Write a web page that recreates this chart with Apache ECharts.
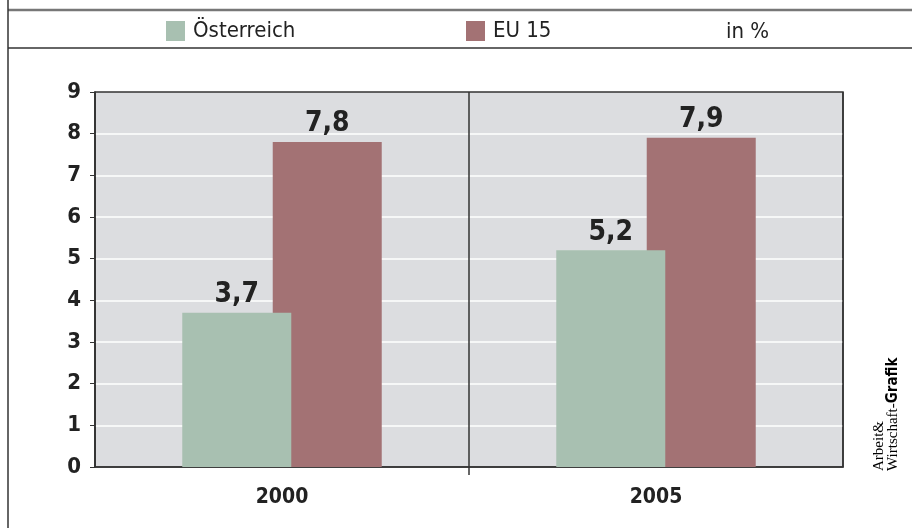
<!DOCTYPE html>
<html>
<head>
<meta charset="utf-8">
<script src="https://cdn.jsdelivr.net/npm/echarts@6/dist/echarts.min.js"></script>
<style>
  html, body { margin: 0; padding: 0; background: #fff; }
  #chart { width: 912px; height: 528px; }
</style>
</head>
<body>
<div id="chart"></div>
<script>
// Daten
var categories = ['2000', '2005'];
var oesterreich = [3.7, 5.2];
var eu15 = [7.8, 7.9];
var seriesNames = ['Österreich', 'EU 15'];
var unitText = 'in %';

var FONT = "'Liberation Sans Narrow', 'DejaVu Sans Condensed', sans-serif";
var green = '#a8c0b1';
var red = '#a37274';

var chart = echarts.init(document.getElementById('chart'));

// Zahl mit Komma
function fmt(p) {
  return String(p.value).replace('.', ',');
}

var legendText = { fontFamily: FONT, fontSize: 22, color: '#222', padding: [0, 0, 0, 3] };

var option = {
  backgroundColor: '#fff',
  animation: false,
  textStyle: { fontFamily: FONT },
  legend: [{
    data: [seriesNames[0]],
    left: 166, top: 20, padding: 0,
    itemWidth: 19, itemHeight: 20, itemGap: 10,
    icon: 'rect',
    textStyle: legendText
  }, {
    data: [seriesNames[1]],
    left: 466, top: 20, padding: 0,
    itemWidth: 19, itemHeight: 20, itemGap: 10,
    icon: 'rect',
    textStyle: legendText
  }],
  grid: {
    left: 95, right: 69, top: 92, bottom: 61,
    show: true,
    backgroundColor: '#dcdde0',
    borderColor: '#333',
    borderWidth: 1.5
  },
  xAxis: {
    type: 'category',
    data: categories,
    axisLine: { lineStyle: { color: '#333', width: 1.5 } },
    axisTick: { show: false },
    splitLine: { show: true, lineStyle: { color: '#333', width: 1.5 } },
    axisLabel: { fontFamily: FONT, fontSize: 21, fontWeight: 'bold', color: '#222', margin: 20 }
  },
  yAxis: {
    type: 'value',
    min: 0, max: 9, interval: 1,
    axisLine: { show: true, lineStyle: { color: '#333', width: 1.5 } },
    axisTick: { show: true, length: 5, lineStyle: { color: '#333' } },
    splitLine: { show: true, showMinLine: false, showMaxLine: false, lineStyle: { color: '#fff', width: 1.5 } },
    axisLabel: { fontFamily: FONT, fontSize: 22, fontWeight: 'bold', color: '#222', margin: 14 }
  },
  series: [{
    name: seriesNames[0],
    type: 'bar',
    data: oesterreich,
    barWidth: 109,
    barGap: '-17%',
    z: 3,
    itemStyle: { color: green },
    label: {
      show: true, position: 'top', distance: 4,
      formatter: fmt,
      fontFamily: FONT, fontSize: 28, fontWeight: 'bold', color: '#222'
    }
  }, {
    name: seriesNames[1],
    type: 'bar',
    data: eu15,
    barWidth: 109,
    barGap: '-17%',
    z: 2,
    itemStyle: { color: red },
    label: {
      show: true, position: 'top', distance: 4,
      formatter: fmt,
      fontFamily: FONT, fontSize: 28, fontWeight: 'bold', color: '#222'
    }
  }],
  graphic: [
    // Rahmenlinien
    { type: 'line', shape: { x1: 8, y1: 10, x2: 912, y2: 10 }, style: { stroke: '#777', lineWidth: 2.5 } },
    { type: 'line', shape: { x1: 8, y1: 48, x2: 912, y2: 48 }, style: { stroke: '#333', lineWidth: 1.5 } },
    { type: 'line', shape: { x1: 8, y1: 0, x2: 8, y2: 528 }, style: { stroke: '#333', lineWidth: 1.5 } },
    {
      type: 'text', left: 726, top: 21,
      style: { text: unitText, font: '22px ' + FONT, fill: '#222' }
    },
    {
      type: 'text', x: 872, y: 471, rotation: Math.PI / 2,
      style: {
        text: '{a|Arbeit&}\n{a|Wirtschaft-}{b|Grafik}',
        textAlign: 'left', textVerticalAlign: 'top',
        rich: {
          a: { fontFamily: "'Liberation Serif', serif", fontSize: 15, color: '#333', lineHeight: 14 },
          b: { fontFamily: FONT, fontSize: 15, fontWeight: 'bold', color: '#222', lineHeight: 14 }
        }
      }
    }
  ]
};

chart.setOption(option);

// Trennstrich zwischen den Kategorien unter der Achse verlaengern
var c0 = chart.convertToPixel({ xAxisIndex: 0 }, 0);
var c1 = chart.convertToPixel({ xAxisIndex: 0 }, 1);
var y0 = chart.convertToPixel({ yAxisIndex: 0 }, 0);
var mid = Math.round((c0 + c1) / 2);
chart.setOption({
  graphic: option.graphic.concat([{
    type: 'line',
    shape: { x1: mid, y1: y0, x2: mid, y2: y0 + 8 },
    style: { stroke: '#333', lineWidth: 1.5 }
  }])
});
</script>
</body>
</html>
